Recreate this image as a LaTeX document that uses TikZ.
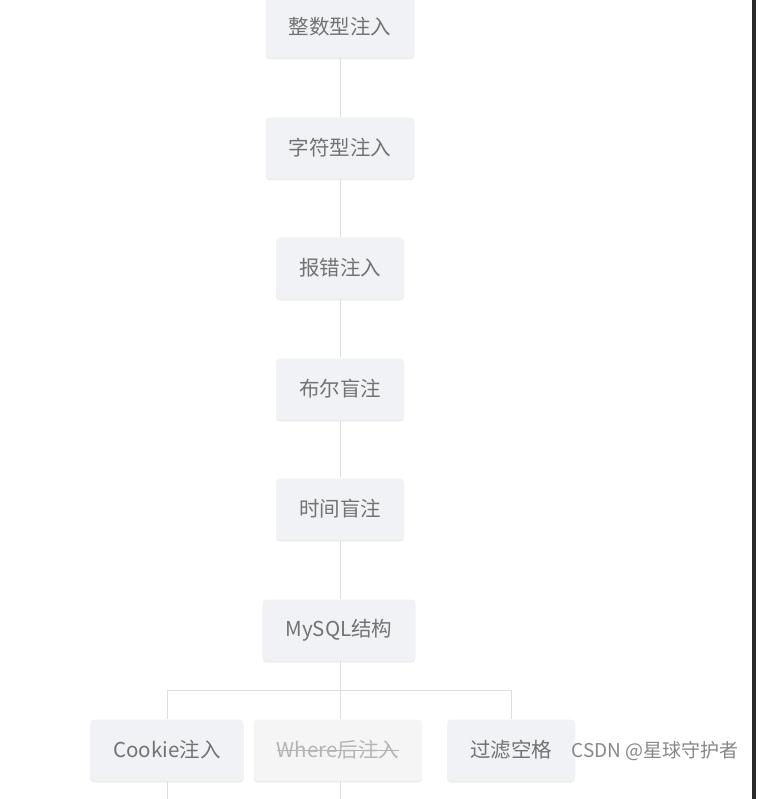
\documentclass[tikz,border=0pt]{standalone}
\usepackage{fontspec}
\setmainfont{Noto Sans CJK SC}
\usetikzlibrary{shadows}

\definecolor{fondocaja}{HTML}{F1F2F5}
\definecolor{fondotachado}{HTML}{F5F5F6}
\definecolor{textocaja}{HTML}{727272}
\definecolor{textotachado}{HTML}{B4B4B4}
\definecolor{linea}{HTML}{DEDEDE}
\definecolor{borde}{HTML}{2B2B2B}

% texto tachado sin ulem
\newcommand{\rayado}[1]{\setbox0\hbox{#1}\rlap{\rule[0.32em]{\wd0}{1.2pt}}\box0}

\begin{document}
\begin{tikzpicture}[
        x=1pt, y=-1pt,
        bloque/.style={
            fill=fondocaja,
            rounded corners=4pt,
            minimum height=61pt,
            inner xsep=23pt,
            text=textocaja,
            font=\fontsize{20.5}{24}\selectfont,
            drop shadow={opacity=0.14, shadow xshift=0pt, shadow yshift=-2pt}
        },
        tachado/.style={bloque, fill=fondotachado, text=textotachado},
        enlace/.style={draw=linea, line width=1pt}
    ]
        \useasboundingbox (0,0) rectangle (757,799);
        \clip (0,0) rectangle (757,799);

        \node[bloque] (entero) at (340,27) {整数型注入};
        \node[bloque] (caracter) at (340,148) {字符型注入};
        \node[bloque] (error) at (340,268) {报错注入};
        \node[bloque] (booleano) at (340,389) {布尔盲注};
        \node[bloque] (tiempo) at (340,509) {时间盲注};
        \node[bloque] (mysql) at (339,630) {MySQL结构};

        \node[bloque] (cookie) at (167,750) {Cookie注入};
        \node[tachado] (where) at (338,750) {\rayado{Where后注入}};
        \node[bloque] (espacios) at (511,750) {过滤空格};

        \coordinate (rama) at (340,690);
        \coordinate (ramaizq) at (167,690);
        \coordinate (ramader) at (511,690);
        \coordinate (finizq) at (167,805);
        \coordinate (fincentro) at (340,805);

        \draw[enlace] (entero.south -| rama) -- (caracter.north -| rama);
        \draw[enlace] (caracter.south -| rama) -- (error.north -| rama);
        \draw[enlace] (error.south -| rama) -- (booleano.north -| rama);
        \draw[enlace] (booleano.south -| rama) -- (tiempo.north -| rama);
        \draw[enlace] (tiempo.south -| rama) -- (mysql.north -| rama);
        \draw[enlace] (mysql.south -| rama) -- (rama);
        \draw[enlace] (ramaizq) -- (ramader);
        \draw[enlace] (ramaizq) -- (cookie.north);
        \draw[enlace] (rama) -- (where.north -| rama);
        \draw[enlace] (ramader) -- (espacios.north);
        \draw[enlace] (cookie.south) -- (finizq);
        \draw[enlace] (where.south -| rama) -- (fincentro);

        % marco derecho de la captura
        \fill[borde] (752,0) rectangle (756,799);

        \node[text=textocaja!85, font=\fontsize{19}{22}\selectfont] (marca) at (655,751) {CSDN @星球守护者};
    \end{tikzpicture}
\end{document}
